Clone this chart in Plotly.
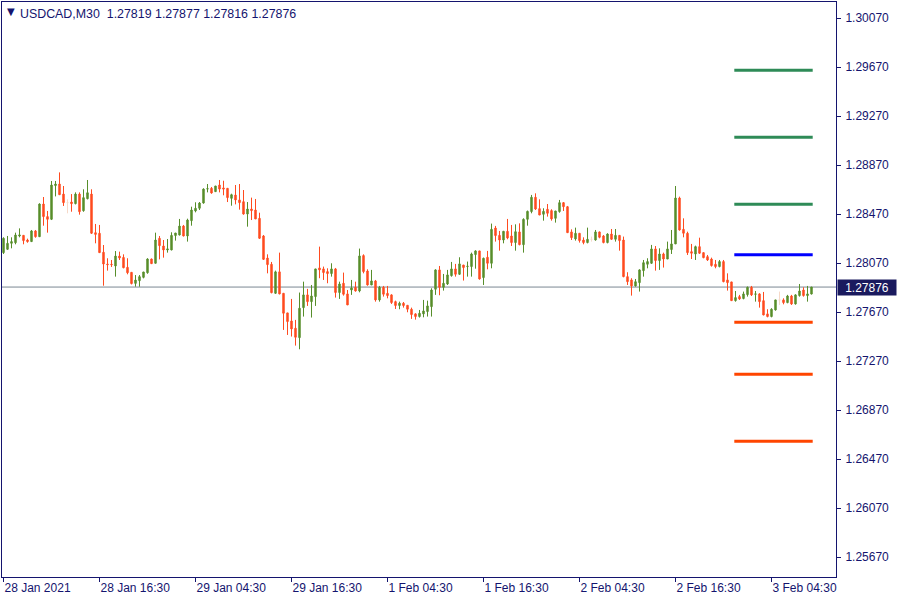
import plotly.graph_objects as go

# ---------------- data (USDCAD, M30) ----------------
opens = [1.28157,1.28184,1.28233,1.28238,1.28293,1.28298,1.28260,1.28247,1.28334,1.28287,
1.28554,1.28451,1.28429,1.28704,1.28717,1.28635,1.28565,1.28570,1.28557,1.28635,
1.28499,1.28597,1.28635,1.28320,1.28315,1.28160,1.28064,1.28062,1.28048,1.28129,
1.28118,1.28037,1.27996,1.27906,1.27928,1.27955,1.27993,1.28105,1.28070,1.28274,
1.28211,1.28179,1.28179,1.28296,1.28301,1.28374,1.28293,1.28418,1.28497,1.28519,
1.28562,1.28676,1.28682,1.28655,1.28709,1.28685,1.28682,1.28600,1.28627,1.28587,
1.28573,1.28472,1.28513,1.28505,1.28437,1.28293,1.28113,1.28062,1.27825,1.28000,
1.27825,1.27665,1.27599,1.27540,1.27463,1.27708,1.27812,1.27757,1.27798,1.28032,
1.28024,1.28002,1.27986,1.28024,1.27831,1.27907,1.27820,1.27852,1.27874,1.27844,
1.28133,1.28007,1.27893,1.27926,1.27771,1.27874,1.27825,1.27812,1.27757,1.27725,
1.27744,1.27727,1.27695,1.27657,1.27635,1.27657,1.27676,1.27716,1.27858,1.28016,
1.27874,1.27901,1.27969,1.28024,1.27980,1.28056,1.28043,1.28043,1.28141,1.28171,
1.27953,1.28119,1.28070,1.28358,1.28298,1.28260,1.28331,1.28293,1.28239,1.28326,
1.28222,1.28429,1.28492,1.28609,1.28516,1.28470,1.28511,1.28500,1.28437,1.28492,
1.28565,1.28532,1.28326,1.28269,1.28315,1.28260,1.28239,1.28266,1.28260,1.28326,
1.28293,1.28239,1.28309,1.28266,1.28298,1.28260,1.27961,1.27934,1.27885,1.27912,
1.28010,1.28062,1.28070,1.28187,1.28092,1.28146,1.28105,1.28182,1.28228,1.28603,
1.28347,1.28315,1.28165,1.28146,1.28206,1.28157,1.28124,1.28105,1.28062,1.28043,
1.28084,1.27934,1.27918,1.27765,1.27798,1.27782,1.27814,1.27874,1.27817,1.27820,
1.27765,1.27657,1.27635,1.27689,1.27771,1.27771,1.27749,1.27803,1.27738,1.27806,
1.27852,1.27806,1.27819]

highs = [1.28282,1.28293,1.28282,1.28320,1.28355,1.28298,1.28271,1.28342,1.28342,1.28559,
1.28611,1.28497,1.28742,1.28742,1.28812,1.28701,1.28592,1.28635,1.28649,1.28649,
1.28674,1.28750,1.28674,1.28391,1.28383,1.28219,1.28111,1.28097,1.28170,1.28165,
1.28143,1.28111,1.27996,1.27974,1.27974,1.27999,1.28111,1.28108,1.28320,1.28293,
1.28260,1.28268,1.28323,1.28317,1.28432,1.28383,1.28434,1.28532,1.28568,1.28570,
1.28682,1.28717,1.28693,1.28701,1.28750,1.28744,1.28682,1.28638,1.28709,1.28717,
1.28668,1.28570,1.28606,1.28595,1.28483,1.28301,1.28143,1.28081,1.28010,1.28157,
1.27825,1.27665,1.27779,1.27608,1.27831,1.27920,1.27861,1.27893,1.28024,1.28206,
1.28043,1.28029,1.28070,1.28032,1.27920,1.27994,1.27852,1.27934,1.27920,1.28190,
1.28143,1.28021,1.28016,1.27934,1.27885,1.27885,1.27885,1.27817,1.27765,1.27757,
1.27754,1.27727,1.27708,1.27662,1.27689,1.27771,1.27765,1.27866,1.28021,1.28048,
1.27983,1.28016,1.28081,1.28065,1.28119,1.28056,1.28084,1.28157,1.28176,1.28171,
1.28116,1.28171,1.28394,1.28375,1.28334,1.28334,1.28432,1.28383,1.28388,1.28396,
1.28437,1.28500,1.28628,1.28641,1.28592,1.28519,1.28554,1.28511,1.28497,1.28587,
1.28570,1.28538,1.28347,1.28361,1.28315,1.28282,1.28361,1.28288,1.28342,1.28328,
1.28301,1.28315,1.28350,1.28350,1.28298,1.28288,1.27997,1.27948,1.27942,1.28021,
1.28097,1.28111,1.28220,1.28211,1.28192,1.28157,1.28247,1.28342,1.28701,1.28614,
1.28437,1.28328,1.28228,1.28214,1.28279,1.28157,1.28138,1.28116,1.28097,1.28097,
1.28097,1.27988,1.27918,1.27844,1.27812,1.27839,1.27880,1.27885,1.27844,1.27825,
1.27836,1.27695,1.27703,1.27771,1.27839,1.27784,1.27812,1.27812,1.27817,1.27901,
1.27874,1.27885,1.27877]

lows = [1.28146,1.28179,1.28192,1.28225,1.28282,1.28225,1.28238,1.28244,1.28279,1.28285,
1.28377,1.28320,1.28423,1.28616,1.28630,1.28538,1.28478,1.28491,1.28551,1.28467,
1.28491,1.28592,1.28309,1.28233,1.28157,1.27887,1.28010,1.28040,1.27961,1.28097,
1.28029,1.27980,1.27898,1.27879,1.27879,1.27947,1.27985,1.28064,1.28070,1.28102,
1.28116,1.28157,1.28176,1.28255,1.28298,1.28290,1.28247,1.28377,1.28486,1.28505,
1.28557,1.28649,1.28638,1.28652,1.28649,1.28625,1.28570,1.28540,1.28551,1.28508,
1.28467,1.28369,1.28423,1.28432,1.28268,1.28097,1.27988,1.27825,1.27820,1.27817,
1.27526,1.27485,1.27472,1.27398,1.27368,1.27635,1.27722,1.27627,1.27722,1.27948,
1.27934,1.27907,1.27961,1.27790,1.27779,1.27806,1.27730,1.27812,1.27839,1.27833,
1.27988,1.27888,1.27893,1.27757,1.27757,1.27798,1.27784,1.27738,1.27697,1.27695,
1.27708,1.27670,1.27616,1.27610,1.27627,1.27629,1.27635,1.27635,1.27812,1.27809,
1.27847,1.27893,1.27961,1.27961,1.27975,1.27929,1.27961,1.27961,1.28026,1.27937,
1.27893,1.28021,1.28029,1.28247,1.28173,1.28233,1.28266,1.28211,1.28173,1.28217,
1.28157,1.28377,1.28478,1.28505,1.28464,1.28418,1.28451,1.28418,1.28402,1.28483,
1.28497,1.28320,1.28260,1.28255,1.28239,1.28225,1.28233,1.28247,1.28255,1.28274,
1.28233,1.28233,1.28260,1.28247,1.28173,1.27956,1.27893,1.27806,1.27880,1.27839,
1.27961,1.28029,1.28065,1.28010,1.28016,1.28035,1.28105,1.28146,1.28228,1.28337,
1.28282,1.28138,1.28105,1.28097,1.28146,1.28111,1.28089,1.28043,1.28029,1.28037,
1.27915,1.27847,1.27763,1.27757,1.27771,1.27776,1.27798,1.27803,1.27757,1.27708,
1.27646,1.27629,1.27629,1.27684,1.27730,1.27735,1.27744,1.27730,1.27733,1.27798,
1.27798,1.27757,1.27816]

closes = [1.28274,1.28233,1.28247,1.28301,1.28301,1.28255,1.28247,1.28334,1.28287,1.28554,
1.28451,1.28429,1.28709,1.28717,1.28630,1.28565,1.28565,1.28557,1.28635,1.28491,
1.28606,1.28646,1.28315,1.28306,1.28157,1.28064,1.28059,1.28059,1.28129,1.28113,
1.28034,1.27993,1.27904,1.27933,1.27961,1.27999,1.28105,1.28067,1.28260,1.28214,
1.28179,1.28187,1.28298,1.28317,1.28374,1.28293,1.28423,1.28505,1.28519,1.28562,
1.28676,1.28679,1.28644,1.28701,1.28676,1.28676,1.28606,1.28630,1.28587,1.28565,
1.28472,1.28513,1.28500,1.28432,1.28274,1.28102,1.28059,1.27830,1.28000,1.27820,
1.27662,1.27594,1.27534,1.27466,1.27703,1.27812,1.27757,1.27803,1.28024,1.28016,
1.27994,1.27986,1.28024,1.27831,1.27901,1.27817,1.27730,1.27869,1.27844,1.28130,
1.28002,1.27893,1.27926,1.27771,1.27874,1.27817,1.27806,1.27749,1.27725,1.27744,
1.27725,1.27695,1.27651,1.27635,1.27662,1.27681,1.27722,1.27852,1.28016,1.27874,
1.27907,1.27975,1.28024,1.27980,1.28065,1.28035,1.28046,1.28146,1.28171,1.27942,
1.28111,1.28070,1.28347,1.28296,1.28260,1.28331,1.28277,1.28239,1.28328,1.28222,
1.28429,1.28494,1.28609,1.28513,1.28464,1.28494,1.28478,1.28432,1.28497,1.28565,
1.28532,1.28320,1.28279,1.28315,1.28255,1.28239,1.28266,1.28266,1.28326,1.28282,
1.28239,1.28309,1.28266,1.28298,1.28255,1.27961,1.27920,1.27885,1.27920,1.28016,
1.28075,1.28084,1.28187,1.28092,1.28146,1.28105,1.28187,1.28228,1.28603,1.28342,
1.28315,1.28157,1.28152,1.28206,1.28152,1.28116,1.28097,1.28051,1.28043,1.28084,
1.27920,1.27912,1.27765,1.27790,1.27779,1.27820,1.27874,1.27812,1.27820,1.27757,
1.27648,1.27635,1.27695,1.27771,1.27771,1.27749,1.27803,1.27738,1.27812,1.27844,
1.27806,1.27820,1.27876]

x_tick_pos = [0, 24, 48, 72, 96, 120, 144, 168, 192]
x_tick_labels = ["28 Jan 2021", "28 Jan 16:30", "29 Jan 04:30", "29 Jan 16:30",
                 "1 Feb 04:30", "1 Feb 16:30", "2 Feb 04:30", "2 Feb 16:30", "3 Feb 04:30"]

y_tick_vals = [1.25670, 1.26070, 1.26470, 1.26870, 1.27270, 1.27670,
               1.28070, 1.28470, 1.28870, 1.29270, 1.29670, 1.30070]
y_tick_labels = ["1.25670", "1.26070", "1.26470", "1.26870", "1.27270", "1.27670",
                 "1.28070", "1.28470", "1.28870", "1.29270", "1.29670", "1.30070"]

level_prices = [1.29646, 1.29099, 1.28552, 1.28139, 1.27588, 1.27164, 1.26617]
level_colors = ["#2E8B57", "#2E8B57", "#2E8B57", "#0000FF", "#FF4500", "#FF4500", "#FF4500"]

last_price = 1.27876
title_text = "USDCAD,M30\u00a0\u00a01.27819 1.27877 1.27816 1.27876"

# ---------------- styles ----------------
NAVY = "#14146E"
GREEN = "#578E2B"
RED = "#FF4B1F"
DOJI = "#F6D9C8"
FONT = "Liberation Sans, Arial, sans-serif"

idx = list(range(len(closes)))
reg = [i for i in idx if opens[i] != closes[i]]
doj = [i for i in idx if opens[i] == closes[i]]

fig = go.Figure()

# current price line
fig.add_shape(type="line", xref="paper", x0=0, x1=1, yref="y", y0=last_price, y1=last_price,
              line=dict(color="#7A8793", width=1), layer="below")

# level lines
for p, col in zip(level_prices, level_colors):
    fig.add_trace(go.Scatter(x=[182.7, 202.3], y=[p, p], mode="lines",
                             line=dict(color=col, width=3), hoverinfo="skip", showlegend=False))

fig.add_trace(go.Candlestick(
    x=reg, open=[opens[i] for i in reg], high=[highs[i] for i in reg],
    low=[lows[i] for i in reg], close=[closes[i] for i in reg],
    increasing=dict(line=dict(color=GREEN, width=1), fillcolor=GREEN),
    decreasing=dict(line=dict(color=RED, width=1), fillcolor=RED),
    whiskerwidth=0, showlegend=False))

fig.add_trace(go.Candlestick(
    x=doj, open=[opens[i] for i in doj], high=[highs[i] for i in doj],
    low=[lows[i] for i in doj], close=[closes[i] for i in doj],
    increasing=dict(line=dict(color=DOJI, width=1), fillcolor=DOJI),
    decreasing=dict(line=dict(color=DOJI, width=1), fillcolor=DOJI),
    whiskerwidth=0, showlegend=False))

fig.update_layout(
    width=900, height=600,
    margin=dict(l=2, r=64, t=2, b=23),
    paper_bgcolor="white", plot_bgcolor="white",
    boxgap=0.5,
    font=dict(family=FONT, size=12, color=NAVY),
    xaxis=dict(range=[-0.375, 208.125], rangeslider=dict(visible=False),
               tickmode="array", tickvals=x_tick_pos, ticktext=x_tick_labels,
               ticks="outside", ticklen=4, tickcolor=NAVY, tickwidth=1,
               ticklabelposition="outside right",
               showgrid=False, zeroline=False,
               showline=True, linecolor=NAVY, linewidth=1, mirror=True,
               tickfont=dict(family=FONT, size=12, color=NAVY)),
    yaxis=dict(range=[1.25509, 1.30203], side="right",
               tickmode="array", tickvals=y_tick_vals, ticktext=y_tick_labels,
               ticks="outside", ticklen=4, tickcolor=NAVY, tickwidth=1,
               ticklabelstandoff=2,
               showgrid=False, zeroline=False,
               showline=True, linecolor=NAVY, linewidth=1, mirror=True,
               tickfont=dict(family=FONT, size=12, color=NAVY)),
    hovermode=False,
)

# price label box
fig.add_annotation(xref="paper", x=1, xanchor="left", xshift=1,
                   yref="y", y=last_price, yanchor="middle",
                   text=f"{last_price:.5f}", showarrow=False,
                   bgcolor="#1A1A5E", width=56, height=13, borderpad=1,
                   font=dict(family=FONT, size=12, color="white"), align="center")

# title
fig.add_annotation(xref="paper", yref="paper", x=0, y=1, xanchor="left", yanchor="top",
                   xshift=3, yshift=-2, text="\u25BC", showarrow=False,
                   font=dict(family="DejaVu Sans", size=10, color=NAVY))
fig.add_annotation(xref="paper", yref="paper", x=0, y=1, xanchor="left", yanchor="top",
                   xshift=16, yshift=-3, text=title_text, showarrow=False,
                   font=dict(family=FONT, size=12.4, color=NAVY))

fig.write_html("out.html", config={"displayModeBar": False},
               post_script="document.body.style.margin='0';")
